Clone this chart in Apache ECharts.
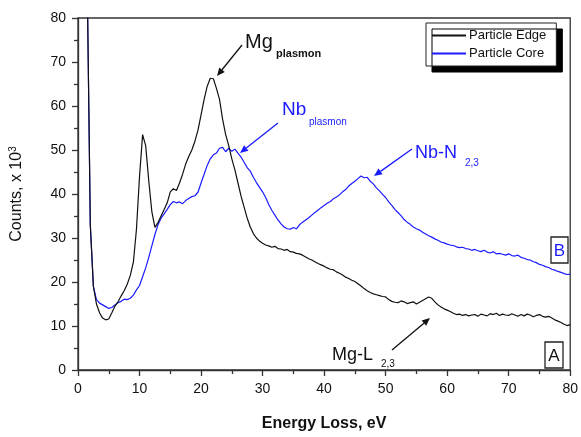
<!DOCTYPE html>
<html lang="en">
<head>
<meta charset="UTF-8">
<title>EELS spectra</title>
<script src="https://cdn.jsdelivr.net/npm/echarts@6/dist/echarts.min.js"></script>
<style>
  html, body { margin: 0; padding: 0; background: #fff; }
  #main { width: 581px; height: 437px; }
</style>
</head>
<body>
<div id="main"></div>
<script>
// energy loss grid, eV
const energy = [
  1.5, 2, 2.5, 3, 3.5, 4, 4.5, 5, 5.5, 6, 6.5, 7, 7.5, 8, 8.5, 9, 9.5, 10,
  10.5, 11, 11.5, 12, 12.5, 13, 13.5, 14, 14.5, 15, 15.5, 16, 16.5, 17, 17.5, 18,
  18.5, 19, 19.5, 20, 20.5, 21, 21.5, 22, 22.5, 23, 23.5, 24, 24.5, 25, 25.5, 26,
  26.5, 27, 27.5, 28, 28.5, 29, 29.5, 30, 30.5, 31, 31.5, 32, 32.5, 33, 33.5, 34,
  34.5, 35, 35.5, 36, 36.5, 37, 37.5, 38, 38.5, 39, 39.5, 40, 40.5, 41, 41.5, 42,
  42.5, 43, 43.5, 44, 44.5, 45, 45.5, 46, 46.5, 47, 47.5, 48, 48.5, 49, 49.5, 50,
  50.5, 51, 51.5, 52, 52.5, 53, 53.5, 54, 54.5, 55, 55.5, 56, 56.5, 57, 57.5, 58,
  58.5, 59, 59.5, 60, 60.5, 61, 61.5, 62, 62.5, 63, 63.5, 64, 64.5, 65, 65.5, 66,
  66.5, 67, 67.5, 68, 68.5, 69, 69.5, 70, 70.5, 71, 71.5, 72, 72.5, 73, 73.5, 74,
  74.5, 75, 75.5, 76, 76.5, 77, 77.5, 78, 78.5, 79, 79.5, 80
];

// counts x 10^3, particle edge (black)
const edgeCounts = [
  88, 33, 19, 15, 13, 11.8, 11.4, 11.6, 13, 14.5, 15.5, 16.8, 18, 19.5, 21.5, 24.5, 32, 44,
  53.5, 51, 43, 36, 32.4, 33.5, 35, 36.5, 38, 40.5, 41.2, 40.8, 42.5, 44.5, 46.8, 48.5,
  50, 52, 54.5, 58, 61.5, 64.5, 66.3, 66.2, 64, 61.5, 57, 53.5, 51, 48, 45.5, 42.5,
  39.5, 37, 34.5, 32.5, 31, 30, 29.3, 28.8, 28.4, 28.2, 27.9, 28.1, 27.6, 27.5, 27.2, 27.4,
  26.9, 26.8, 26.5, 26.4, 26.1, 25.7, 25.3, 25.0, 24.6, 24.2, 23.9, 23.6, 23.2, 22.9, 22.8, 22.3,
  22.0, 21.6, 21.1, 20.8, 20.4, 20.1, 19.6, 19.1, 18.5, 18.0, 17.6, 17.3, 17.1, 16.9, 16.7, 16.6,
  16.0, 15.6, 15.4, 15.3, 15.7, 15.5, 15.1, 15.3, 15.5, 15.0, 15.4, 15.8, 16.2, 16.6, 16.3, 15.5,
  14.8, 14.3, 13.9, 13.6, 13.3, 12.9, 12.6, 12.7, 12.4, 12.6, 12.3, 12.5, 12.6, 12.2, 12.7, 12.5,
  12.3, 12.8, 12.6, 12.9, 12.4, 12.7, 12.5, 12.4, 12.8, 12.5, 12.2, 12.6, 12.3, 12.7, 12.5, 12.1,
  12.4, 12.6, 12.2, 12.0, 12.2, 11.8, 11.4, 11.1, 10.8, 10.4, 10.1, 10.3
];

// counts x 10^3, particle core (blue)
const coreCounts = [
  88, 33, 19, 16, 15.2, 14.8, 14.4, 14.0, 14.2, 14.8, 15.3, 15.6, 16.1, 16.0, 16.3, 17.0, 18.2, 19.2,
  21.2, 23.2, 25.6, 28.2, 30.8, 33.0, 34.5, 35.5, 36.5, 37.6, 38.3, 38.0, 38.2, 37.8, 38.5, 39.0,
  39.4, 39.6, 40.4, 42.5, 44.5, 46.5, 48.0, 48.9, 49.3, 50.4, 50.6, 49.6, 50.4, 49.7, 50.2, 49.3,
  48.4, 47.2, 46.0, 45.2, 43.8, 42.6, 41.5, 40.5, 39.2, 37.6, 36.3, 35.2, 34.1, 33.2, 32.5, 32.1,
  32.0, 32.4, 32.1, 33.0, 33.6, 34.1, 34.6, 35.2, 35.8, 36.3, 36.9, 37.4, 37.9, 38.3, 38.9, 39.3,
  39.8, 40.5, 41.0, 41.8, 42.4, 42.9, 43.5, 44.1, 43.7, 43.8, 42.9, 42.3, 41.4, 40.7, 39.9, 39.2,
  38.2, 37.4, 36.5, 35.8, 35.1, 34.2, 33.6, 33.1, 32.5, 32.1, 31.8, 31.3, 30.9, 30.5, 30.2, 29.8,
  29.5, 29.1, 28.9, 28.6, 28.4, 28.3, 28.0, 27.8, 27.9, 27.6, 27.5, 27.2, 27.4, 27.1, 26.9, 27.2,
  26.8, 26.6, 26.9, 26.4, 26.5, 26.3, 26.1, 26.4, 26.0, 25.9, 26.1, 25.6, 25.4, 25.1, 25.0, 24.6,
  24.4, 24.0, 23.8, 23.5, 23.3, 22.9, 22.7, 22.4, 22.2, 21.9, 21.7, 21.8
];

const seriesNames = ['Particle Edge', 'Particle Core'];
const xTicks = [0, 10, 20, 30, 40, 50, 60, 70, 80];
const yTicks = [0, 10, 20, 30, 40, 50, 60, 70, 80];

const FONT = 'Arial, "Liberation Sans", sans-serif';
const BLUE = '#1a1aff';
const INK = '#111';

const chart = echarts.init(document.getElementById('main'));

function pairs(ys) {
  return energy.map((x, i) => [x, ys[i]]);
}

function arrow(x1, y1, x2, y2, color) {
  // shaft plus a small filled head at (x2, y2)
  const a = Math.atan2(y2 - y1, x2 - x1);
  const L = 8, W = 3.5;
  const bx = x2 - L * Math.cos(a), by = y2 - L * Math.sin(a);
  return [
    { type: 'line', shape: { x1: x1, y1: y1, x2: bx, y2: by },
      style: { stroke: color, lineWidth: 1.3 }, z: 10 },
    { type: 'polygon', shape: { points: [
        [x2, y2],
        [bx + W * Math.sin(a), by - W * Math.cos(a)],
        [bx - W * Math.sin(a), by + W * Math.cos(a)]
      ] }, style: { fill: color }, z: 10 }
  ];
}

function txt(x, y, s, size, color, weight, align) {
  return { type: 'text', x: x, y: y, z: 10,
    style: { text: s, fill: color, font: (weight || 'normal') + ' ' + size + 'px ' + FONT,
      textAlign: align || 'left', textVerticalAlign: 'middle' } };
}

function labelBox(x, y, w, h, s, color) {
  return [
    { type: 'rect', shape: { x: x, y: y, width: w, height: h }, z: 10,
      style: { fill: '#fff', stroke: '#222', lineWidth: 1.3 } },
    txt(x + w / 2, y + h / 2 + 1, s, 17, color, 'normal', 'center')
  ];
}

const graphics = [].concat(
  // Mg plasmon
  txt(245, 42, 'Mg', 20, INK),
  txt(276, 54, 'plasmon', 11, INK, 'bold'),
  arrow(242, 45, 217, 76, INK),
  // Nb plasmon
  txt(282, 110, 'Nb', 19, BLUE),
  txt(309, 122, 'plasmon', 10, BLUE),
  arrow(278, 123, 240, 153, BLUE),
  // Nb-N2,3
  txt(415, 153, 'Nb-N', 18, BLUE),
  txt(465, 163, '2,3', 10, BLUE),
  arrow(412, 149, 374, 176, BLUE),
  // Mg-L2,3
  txt(332, 355, 'Mg-L', 18, INK),
  txt(381, 364, '2,3', 10, INK),
  arrow(392, 350, 430, 318, INK),
  // panel tags
  labelBox(545, 342, 18, 26, 'A', INK),
  labelBox(551, 237, 17, 26, 'B', BLUE)
);

chart.setOption({
  animation: false,
  backgroundColor: '#fff',
  grid: { left: 77, right: 7, top: 18, bottom: 56, show: true,
    borderColor: '#333', borderWidth: 1.3, backgroundColor: 'transparent' },
  legend: {
    data: seriesNames,
    orient: 'vertical',
    left: 426, top: 23,
    padding: [6, 10, 6, 6],
    itemGap: 5,
    itemWidth: 34, itemHeight: 2,
    icon: 'rect',
    selectedMode: false,
    backgroundColor: '#fff',
    borderColor: '#222', borderWidth: 1,
    shadowColor: '#000', shadowBlur: 0, shadowOffsetX: 6, shadowOffsetY: 6,
    textStyle: { fontFamily: FONT, fontSize: 13, color: INK, padding: [0, 0, 0, -2] }
  },
  xAxis: {
    type: 'value', min: 0, max: 80, interval: 10,
    name: 'Energy Loss, eV', nameLocation: 'middle', nameGap: 46,
    nameTextStyle: { fontFamily: FONT, fontSize: 16, fontWeight: 'bold', color: INK },
    axisLine: { lineStyle: { color: '#333', width: 1.3 } },
    axisTick: { show: true, length: 6, lineStyle: { color: '#333', width: 1.3 } },
    minorTick: { show: true, splitNumber: 2, length: 4, lineStyle: { color: '#333', width: 1.3 } },
    splitLine: { show: false },
    axisLabel: { margin: 12, fontFamily: FONT, fontSize: 14, color: INK,
      formatter: v => xTicks.includes(v) ? String(v) : '' }
  },
  yAxis: {
    type: 'value', min: 0, max: 80, interval: 10,
    name: 'Counts, x 10{sup|3}', nameLocation: 'middle', nameGap: 52,
    nameTextStyle: { fontFamily: FONT, fontSize: 16, color: INK,
      rich: { sup: { fontFamily: FONT, fontSize: 10, color: INK, padding: [0, 0, 8, 0] } } },
    axisLine: { lineStyle: { color: '#333', width: 1.3 } },
    axisTick: { show: true, length: 6, lineStyle: { color: '#333', width: 1.3 } },
    minorTick: { show: true, splitNumber: 2, length: 4, lineStyle: { color: '#333', width: 1.3 } },
    splitLine: { show: false },
    axisLabel: { margin: 12, fontFamily: FONT, fontSize: 14, color: INK,
      formatter: v => yTicks.includes(v) ? String(v) : '' }
  },
  series: [
    { name: seriesNames[0], type: 'line', data: pairs(edgeCounts), showSymbol: false,
      symbol: 'none', clip: true, color: INK, lineStyle: { color: INK, width: 1.2 }, z: 3 },
    { name: seriesNames[1], type: 'line', data: pairs(coreCounts), showSymbol: false,
      symbol: 'none', clip: true, color: BLUE, lineStyle: { color: BLUE, width: 1.2 }, z: 2 }
  ],
  graphic: graphics
});
</script>
</body>
</html>
